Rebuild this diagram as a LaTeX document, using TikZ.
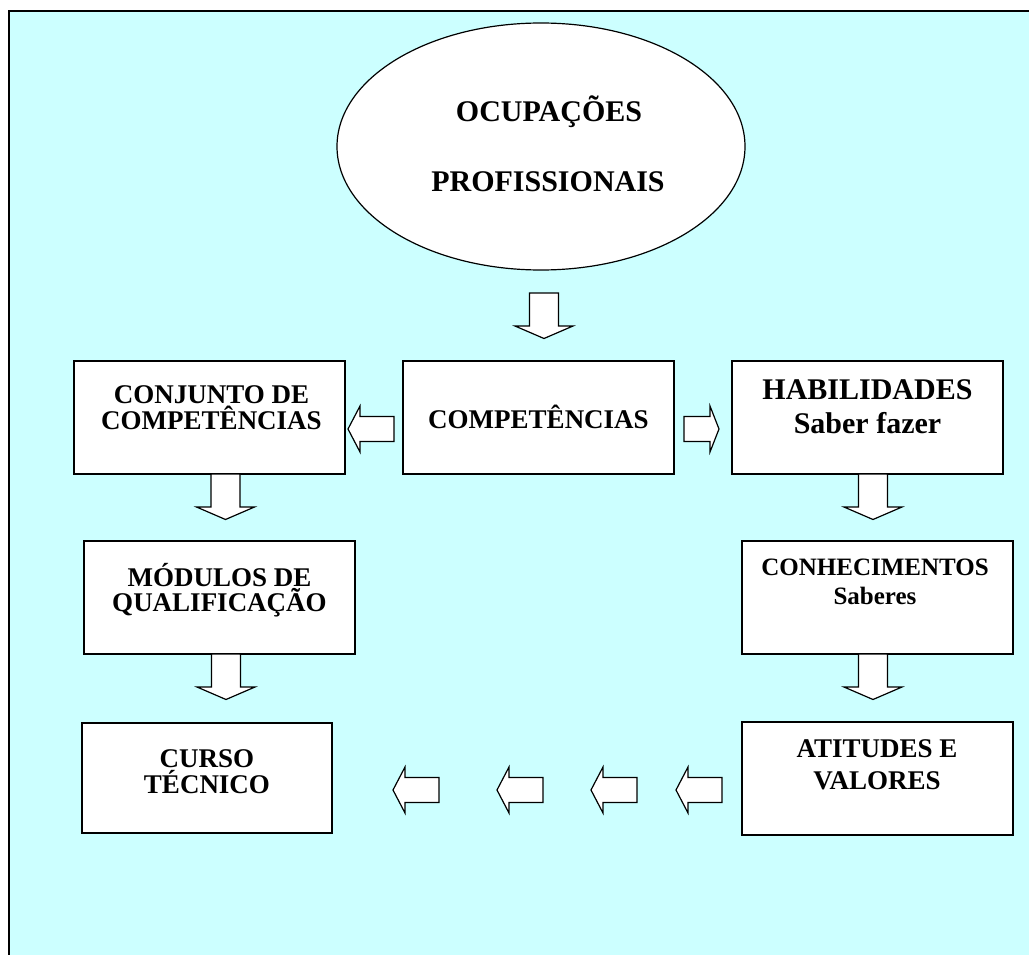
\documentclass[tikz,border=0pt]{standalone}
\usepackage{fontspec}
\setmainfont{Liberation Serif}
\usetikzlibrary{shapes.geometric}
\definecolor{bgcyan}{HTML}{CCFFFF}
\newcommand\fsz[1]{\fontsize{#1}{#1}\selectfont\bfseries}
\tikzset{
  box/.style={draw=black, line width=1.6pt, fill=white, rectangle, inner sep=0pt, outer sep=0pt},
  txt/.style={anchor=base, inner sep=0pt, text=black},
  arr/.style={draw=black, fill=white, line width=1.2pt, line join=miter},
  dnarr/.pic={\draw[arr] (-14.5,0) -- (14.5,0) -- (14.5,33) -- (29,33) -- (0,45.5) -- (-29,33) -- (-14.5,33) -- cycle;},
  ltarr/.pic={\draw[arr] (0,0) -- (12,-23) -- (12,-12.5) -- (46,-12.5) -- (46,12.5) -- (12,12.5) -- (12,23) -- cycle;},
  rtarr/.pic={\draw[arr] (0,0) -- (-9,-23) -- (-9,-12.5) -- (-35,-12.5) -- (-35,12.5) -- (-9,12.5) -- (-9,23) -- cycle;}
}
\begin{document}
\begin{tikzpicture}[x=1pt,y=-1pt]
\useasboundingbox (0,0) rectangle (1029,955);
\begin{scope}
\clip (0,0) rectangle (1029,955);
\fill[bgcyan] (9,11) rectangle (1040,970);
\draw[line width=2pt] (9,970) -- (9,11) -- (1040,11);
\end{scope}
% ellipse
\node[ellipse, draw=black, line width=1.2pt, fill=white, minimum width=408pt, minimum height=247pt, inner sep=0pt] (ocup) at (541,146.5) {};
\node[txt, font=\fsz{30}] (ocup1) at (549,122) {OCUPAÇÕES};
\node[txt, font=\fsz{30}] (ocup2) at (548,192) {PROFISSIONAIS};
\pic at (544,293) {dnarr};
% row 1
\node[box, minimum width=271pt, minimum height=113pt] (conj) at (209.5,417.5) {};
\node[txt, font=\fsz{27}] (conj1) at (211.5,403) {CONJUNTO DE};
\node[txt, font=\fsz{27}] (conj2) at (211.5,429) {COMPETÊNCIAS};
\node[box, minimum width=271pt, minimum height=113pt] (comp) at (538.5,417.5) {};
\node[txt, font=\fsz{27}] (comp1) at (538.5,428) {COMPETÊNCIAS};
\node[box, minimum width=271pt, minimum height=113pt] (hab) at (867.5,417.5) {};
\node[txt, font=\fsz{30}] (hab1) at (867.5,399) {HABILIDADES};
\node[txt, font=\fsz{30}] (hab2) at (867.5,433) {Saber fazer};
\pic at (348,429) {ltarr};
\pic at (719,429) {rtarr};
\pic at (225.5,474) {dnarr};
\pic at (873,474) {dnarr};
% row 2
\node[box, minimum width=271pt, minimum height=113pt] (mod) at (219.5,597.5) {};
\node[txt, font=\fsz{27}] (mod1) at (219.5,586) {MÓDULOS DE};
\node[txt, font=\fsz{27}] (mod2) at (219.5,611) {QUALIFICAÇÃO};
\node[box, minimum width=271pt, minimum height=113pt] (conh) at (877.5,597.5) {};
\node[txt, font=\fsz{25}] (conh1) at (875,575) {CONHECIMENTOS};
\node[txt, font=\fsz{25}] (conh2) at (875,604) {Saberes};
\pic at (226,654) {dnarr};
\pic at (873,654) {dnarr};
% row 3
\node[box, minimum width=250pt, minimum height=110pt] (curso) at (207,778) {};
\node[txt, font=\fsz{27}] (curso1) at (207,767) {CURSO};
\node[txt, font=\fsz{27}] (curso2) at (207,793) {TÉCNICO};
\node[box, minimum width=271pt, minimum height=113pt] (atit) at (877.5,778.5) {};
\node[txt, font=\fsz{27}] (atit1) at (877,757) {ATITUDES E};
\node[txt, font=\fsz{27}] (atit2) at (877,789) {VALORES};
\pic at (393,790) {ltarr};
\pic at (497,790) {ltarr};
\pic at (591,790) {ltarr};
\pic at (676,790) {ltarr};
\end{tikzpicture}
\end{document}
